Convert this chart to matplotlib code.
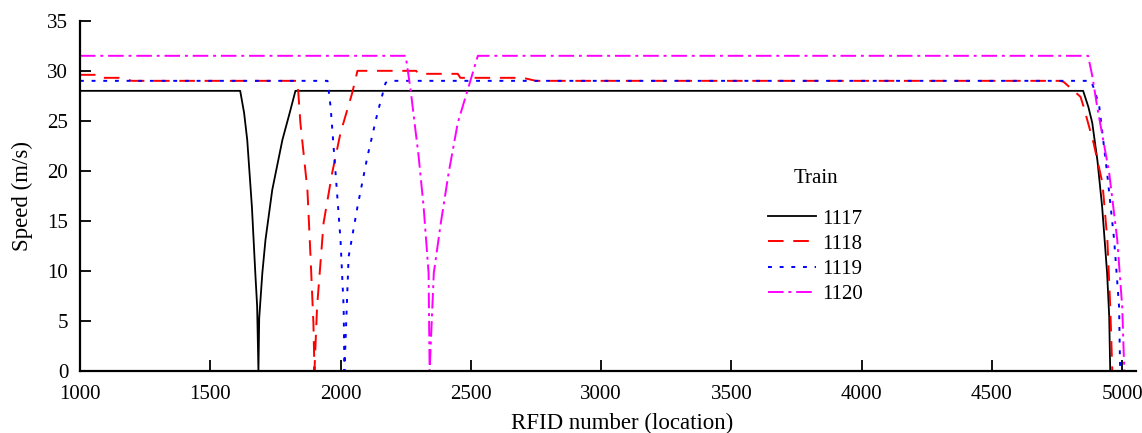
import matplotlib
matplotlib.use("Agg")
import matplotlib.pyplot as plt

plt.rcParams['font.family'] = ['Liberation Serif', 'DejaVu Serif']

# ---- data ----
x_1117 = [1000, 1615, 1630, 1642, 1660, 1673, 1680, 1685, 1688, 1700, 1712, 1738, 1777, 1805, 1827,
          4850, 4870, 4885, 4905, 4923, 4942, 4950, 4954]
v_1117 = [28, 28, 25.8, 23.1, 16.4, 9.8, 6.5, 0, 5.3, 9.8, 13.1, 18.1, 23.1, 25.8, 28,
          28, 26.4, 24.8, 21.0, 16.4, 9.8, 5.5, 0]

x_1118 = [1000, 1060, 1070, 1150, 1200, 1835, 1846, 1873, 1885, 1896, 1900, 1910, 1935, 1968, 2000,
          2045, 2065, 2290, 2300, 2450, 2460, 2700, 2750, 4760, 4775, 4840, 4852, 4890, 4924, 4943,
          4954, 4962]
v_1118 = [29.6, 29.6, 29.3, 29.3, 29.0, 29.0, 24.8, 18.1, 11.4, 4.8, 0, 6.4, 14.8, 19.8, 23.8,
          27.8, 30.0, 30.0, 29.7, 29.7, 29.3, 29.3, 29.0, 29.0, 28.9, 27.4, 26.4, 22.8, 18.8, 13.1,
          6.4, 0]

x_1119 = [1000, 1950, 1962, 1981, 2000, 2012, 2015, 2031, 2065, 2103, 2142, 2173, 2190,
          4880, 4895, 4912, 4942, 4969, 4988, 4992]
v_1119 = [29.0, 29.0, 26.4, 19.8, 13.1, 6.4, 0, 11.4, 16.4, 21.4, 25.8, 28.8, 29.0,
          29.0, 28.0, 26.4, 19.8, 13.1, 6.4, 0]

x_1120 = [1000, 2250, 2269, 2300, 2319, 2338, 2342, 2358, 2385, 2415, 2450, 2488, 2527,
          4869, 4885, 4904, 4950, 4981, 5000, 5008]
v_1120 = [31.5, 31.5, 28.1, 21.4, 16.4, 9.8, 0, 9.8, 14.8, 19.8, 24.8, 28.1, 31.5,
          31.5, 29.5, 26.4, 19.8, 13.1, 6.4, 0]

trains = ['1117', '1118', '1119', '1120']
x_ticks = [1000, 1500, 2000, 2500, 3000, 3500, 4000, 4500, 5000]
y_ticks = [0, 5, 10, 15, 20, 25, 30, 35]

# ---- figure ----
fig = plt.figure(figsize=(11.42, 4.33), dpi=100)
ax = fig.add_axes([0.070, 0.143, 0.925, 0.809])

ax.plot(x_1117, v_1117, color='black', lw=1.3, ls='-', label=trains[0])
ax.plot(x_1118, v_1118, color='#ff0000', lw=1.4, ls=(0, (8, 5)), label=trains[1])
ax.plot(x_1119, v_1119, color='#0000ff', lw=1.4, ls=(0, (2, 4)), label=trains[2])
ax.plot(x_1120, v_1120, color='#ff00ff', lw=1.4, ls=(0, (8, 2.5, 1.5, 2.5)), label=trains[3])

ax.set_xlim(1000, 5054)
ax.set_ylim(0, 35)
ax.set_xticks(x_ticks)
ax.set_yticks(y_ticks)
ax.tick_params(direction='in', length=8, width=1.3, labelsize=15)
ax.tick_params(axis='x', pad=10)
ax.tick_params(axis='y', pad=8.5)
for s in ['top', 'right']:
    ax.spines[s].set_visible(False)
for s in ['left', 'bottom']:
    ax.spines[s].set_linewidth(1.6)

ax.set_xlabel('RFID number (location)', fontsize=16.5, va='top')
ax.xaxis.set_label_coords(0.513, -0.12)
ax.set_ylabel('Speed (m/s)', fontsize=16.5, labelpad=10)

leg = ax.legend(title='Train', loc='upper left', bbox_to_anchor=(0.634, 0.63),
                frameon=False, fontsize=15, title_fontsize=15, handlelength=2.3,
                handletextpad=0.3, labelspacing=0.27)
leg._legend_box.sep = 15

fig.savefig('out.png', dpi=100)
